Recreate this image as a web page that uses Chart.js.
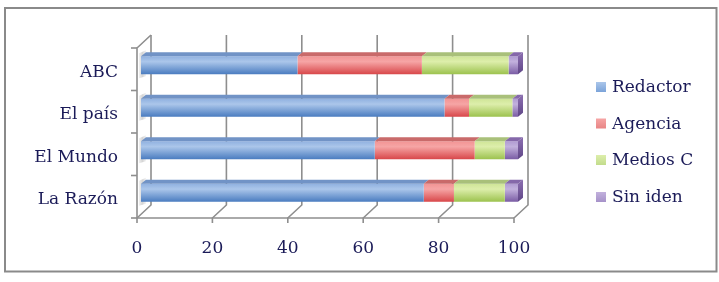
<!DOCTYPE html>
<html>
<head>
<meta charset="utf-8">
<script src="https://cdn.jsdelivr.net/npm/chart.js@4"></script>
<style>
  html, body { margin: 0; padding: 0; background: #ffffff; }
  canvas { display: block; }
</style>
</head>
<body>
<canvas id="c" width="719" height="282"></canvas>
<script>
// ---- data ----
const categories = ['ABC', 'El país', 'El Mundo', 'La Razón'];
const seriesNames = ['Redactor', 'Agencia', 'Medios C', 'Sin iden'];
const redactor = [41.5, 80.5, 62, 75];
const agencia  = [33, 6.5, 26.5, 8];
const mediosC  = [23, 11.5, 8, 13.5];
const sinIden  = [2.5, 1.5, 3.5, 3.5];
const xTicks   = [0, 20, 40, 60, 80, 100];

// ---- styles ----
const palette = [
  { light: '#abc6ea', mid: '#90b1e0', dark: '#4a7cc0', top: '#7193c6', side: '#3f6aa8', key: '#7ba3d9' },
  { light: '#f6a5a5', mid: '#f29494', dark: '#d8474a', top: '#c96a6a', side: '#b03a3c', key: '#e88585' },
  { light: '#ddeeab', mid: '#cfe597', dark: '#9cc24e', top: '#a9c07a', side: '#7f9f3c', key: '#c2dc8c' },
  { light: '#c2b1dd', mid: '#b09bd2', dark: '#7a5ca4', top: '#8568aa', side: '#5f4686', key: '#a692c9' }
];
const textColor = '#1b1b58';
const lineColor = '#8e8e8e';
const DX = 14, DY = -13;     // wall depth
const BX = 4, BY = -4;       // bar offset into depth
const FX = 5, FY = -4;       // bar own depth
const halfBar = 9;

function gradFor(p) {
  return function (c) {
    const chart = c.chart;
    const ys = chart.scales && chart.scales.y;
    if (!ys || c.dataIndex === undefined || !isFinite(ys.getPixelForValue(c.dataIndex))) return p.mid;
    const yc = ys.getPixelForValue(c.dataIndex);
    const g = chart.ctx.createLinearGradient(0, yc - halfBar, 0, yc + halfBar);
    g.addColorStop(0, p.mid);
    g.addColorStop(0.3, p.light);
    g.addColorStop(1, p.dark);
    return g;
  };
}

const seriesData = [redactor, agencia, mediosC, sinIden];
const datasets = seriesData.map((d, i) => ({
  label: seriesNames[i],
  data: d,
  backgroundColor: gradFor(palette[i]),
  borderWidth: 0,
  categoryPercentage: 1,
  barPercentage: 0.424,
  clip: false
}));

const wallPlugin = {
  id: 'wall',
  beforeDatasetsDraw(chart) {
    const ctx = chart.ctx;
    const a = chart.chartArea;
    const xs = chart.scales.x, ys = chart.scales.y;
    ctx.save();
    ctx.strokeStyle = lineColor;
    ctx.lineWidth = 1.6;
    ctx.lineCap = 'butt';
    // soft shadows of bars on the left wall
    categories.forEach((_, i) => {
      const yc = ys.getPixelForValue(i) + BY;
      const g = ctx.createLinearGradient(a.left, 0, a.left + 9, 0);
      g.addColorStop(0, 'rgba(150,150,150,0)');
      g.addColorStop(0.6, 'rgba(150,150,150,0.4)');
      g.addColorStop(1, 'rgba(150,150,150,0.1)');
      ctx.fillStyle = g;
      ctx.beginPath();
      ctx.moveTo(a.left + 2, yc - halfBar - 3);
      ctx.lineTo(a.left + 9, yc - halfBar - 6);
      ctx.lineTo(a.left + 9, yc + halfBar + 2);
      ctx.lineTo(a.left + 2, yc + halfBar + 4);
      ctx.closePath();
      ctx.fill();
    });
    // vertical gridlines on the back wall + floor diagonals + ticks
    xTicks.forEach(v => {
      const x = xs.getPixelForValue(v);
      ctx.beginPath();
      ctx.moveTo(x + DX, a.top + DY);
      ctx.lineTo(x + DX, a.bottom + DY);
      ctx.lineTo(x, a.bottom);
      ctx.lineTo(x, a.bottom + 5);
      ctx.stroke();
    });
    // floor front edge
    ctx.beginPath();
    ctx.moveTo(a.left, a.bottom);
    ctx.lineTo(a.right, a.bottom);
    ctx.stroke();
    // left wall front edge and top diagonal
    ctx.beginPath();
    ctx.moveTo(a.left, a.bottom);
    ctx.lineTo(a.left, a.top);
    ctx.lineTo(a.left + DX, a.top + DY);
    ctx.stroke();
    // y tick marks at category boundaries
    const n = categories.length;
    for (let i = 0; i <= n; i++) {
      const y = a.top + (a.bottom - a.top) * i / n;
      ctx.beginPath();
      ctx.moveTo(a.left - 6, y);
      ctx.lineTo(a.left, y);
      ctx.stroke();
    }
    ctx.restore();
    // shift bars into depth
    ctx.save();
    ctx.translate(BX, BY);
  },
  afterDatasetsDraw(chart) {
    const ctx = chart.ctx;
    const metas = chart.getSortedVisibleDatasetMetas();
    metas.forEach((meta, di) => {
      const p = palette[meta.index];
      meta.data.forEach((el) => {
        const props = el.getProps(['x', 'y', 'base', 'height'], true);
        const x0 = Math.min(props.base, props.x), x1 = Math.max(props.base, props.x);
        const yT = props.y - props.height / 2, yB = props.y + props.height / 2;
        // top face
        ctx.fillStyle = p.top;
        ctx.beginPath();
        ctx.moveTo(x0, yT);
        ctx.lineTo(x0 + FX, yT + FY);
        ctx.lineTo(x1 + FX, yT + FY);
        ctx.lineTo(x1, yT);
        ctx.closePath();
        ctx.fill();
        // right side face for last segment
        if (di === metas.length - 1) {
          const g = ctx.createLinearGradient(0, yT, 0, yB);
          g.addColorStop(0, p.top);
          g.addColorStop(1, p.side);
          ctx.fillStyle = g;
          ctx.beginPath();
          ctx.moveTo(x1, yT);
          ctx.lineTo(x1 + FX, yT + FY);
          ctx.lineTo(x1 + FX, yB + FY);
          ctx.lineTo(x1, yB);
          ctx.closePath();
          ctx.fill();
        }
      });
    });
    ctx.restore();
  },
  afterDraw(chart) {
    const ctx = chart.ctx;
    ctx.save();
    // legend
    const keyX = 596, textX = 612;
    const rows = [87, 123.5, 160, 197];
    ctx.font = "17px 'DejaVu Serif'";
    ctx.textBaseline = 'middle';
    ctx.textAlign = 'left';
    chart.data.datasets.forEach((ds, i) => {
      const p = palette[i];
      const y = rows[i];
      const g = ctx.createLinearGradient(0, y - 5, 0, y + 5);
      g.addColorStop(0, p.light);
      g.addColorStop(1, p.key);
      ctx.fillStyle = g;
      ctx.fillRect(keyX, y - 5, 10, 10);
      ctx.fillStyle = textColor;
      ctx.fillText(ds.label, textX, y + 1);
    });
    // outer frame
    ctx.strokeStyle = '#8a8a8a';
    ctx.lineWidth = 2;
    ctx.strokeRect(5, 8, 711.5, 263.5);
    ctx.restore();
  }
};

Chart.defaults.font.family = "'DejaVu Serif', serif";
Chart.defaults.font.size = 17;
Chart.defaults.color = textColor;

new Chart(document.getElementById('c'), {
  type: 'bar',
  data: { labels: categories, datasets },
  plugins: [wallPlugin],
  options: {
    indexAxis: 'y',
    responsive: false,
    animation: false,
    layout: { padding: { left: 0, right: 205, top: 48, bottom: 0 } },
    plugins: { legend: { display: false }, tooltip: { enabled: false } },
    scales: {
      x: {
        stacked: true,
        min: 0, max: 100,
        afterBuildTicks: (s) => { s.ticks = xTicks.map(v => ({ value: v })); },
        afterFit: (s) => { s.height = 64; },
        grid: { display: false, drawTicks: false },
        border: { display: false },
        ticks: { padding: 20, color: textColor, maxRotation: 0 }
      },
      y: {
        stacked: true,
        afterFit: (s) => { s.width = 137; },
        grid: { display: false, drawTicks: false },
        border: { display: false },
        ticks: { padding: 19, color: textColor, labelOffset: 3 }
      }
    }
  }
});
</script>
</body>
</html>
